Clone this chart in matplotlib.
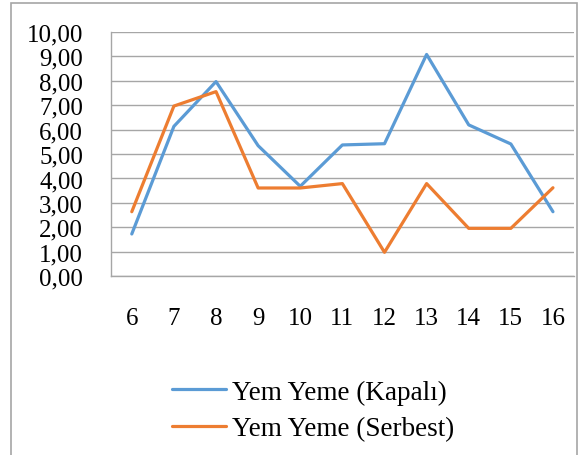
import numpy as np
import matplotlib
matplotlib.use('Agg')
import matplotlib.pyplot as plt
from matplotlib.patches import Rectangle
from matplotlib.ticker import FuncFormatter

hours = ['6', '7', '8', '9', '10', '11', '12', '13', '14', '15', '16']
kapali = [1.73, 6.13, 7.96, 5.34, 3.68, 5.37, 5.42, 9.07, 6.19, 5.41, 2.64]
serbest = [2.64, 6.96, 7.55, 3.61, 3.61, 3.79, 0.98, 3.79, 1.96, 1.96, 3.62]
series_names = ['Yem Yeme (Kapalı)', 'Yem Yeme (Serbest)']

plt.rcParams['font.family'] = ['Liberation Serif', 'DejaVu Serif']

fig = plt.figure(figsize=(5.8, 4.56), dpi=100)
ax = fig.add_axes([0.1909, 0.3919, 0.7988, 0.5364])

x = np.arange(len(hours))
ax.plot(x, kapali, color='#5B9BD5', lw=2.3, label=series_names[0], solid_capstyle='round')
ax.plot(x, serbest, color='#ED7D31', lw=2.3, label=series_names[1], solid_capstyle='round')

ax.set_xlim(-0.5, len(hours) - 0.5)
ax.set_ylim(0, 10)
ax.set_xticks(x)
ax.set_xticklabels(hours)
ax.set_yticks(np.arange(0, 11, 1))
ax.yaxis.set_major_formatter(FuncFormatter(lambda v, p: f'{v:.2f}'.replace('.', ',')))
ax.tick_params(axis='both', length=0, labelsize=18)
ax.tick_params(axis='y', pad=20)
ax.tick_params(axis='x', pad=22)

ax.grid(axis='y', color='#A6A6A6', lw=1)
ax.set_axisbelow(True)
for s in ['top', 'right']:
    ax.spines[s].set_visible(False)
for s in ['left', 'bottom']:
    ax.spines[s].set_color('#A6A6A6')
    ax.spines[s].set_linewidth(1)

fig.legend(loc='upper left', bbox_to_anchor=(0.297, 0.165), frameon=False,
           fontsize=19.5, handlelength=2.0, handletextpad=0.22, labelspacing=0.42,
           borderaxespad=0, borderpad=0)

# outer chart frame
fig.patches.append(Rectangle((11 / 580, -0.05), 566 / 580, 1.05 - 3.5 / 456,
                             transform=fig.transFigure, fill=False,
                             edgecolor='#A6A6A6', lw=1.2, clip_on=False))

fig.savefig('out.png', dpi=100)
